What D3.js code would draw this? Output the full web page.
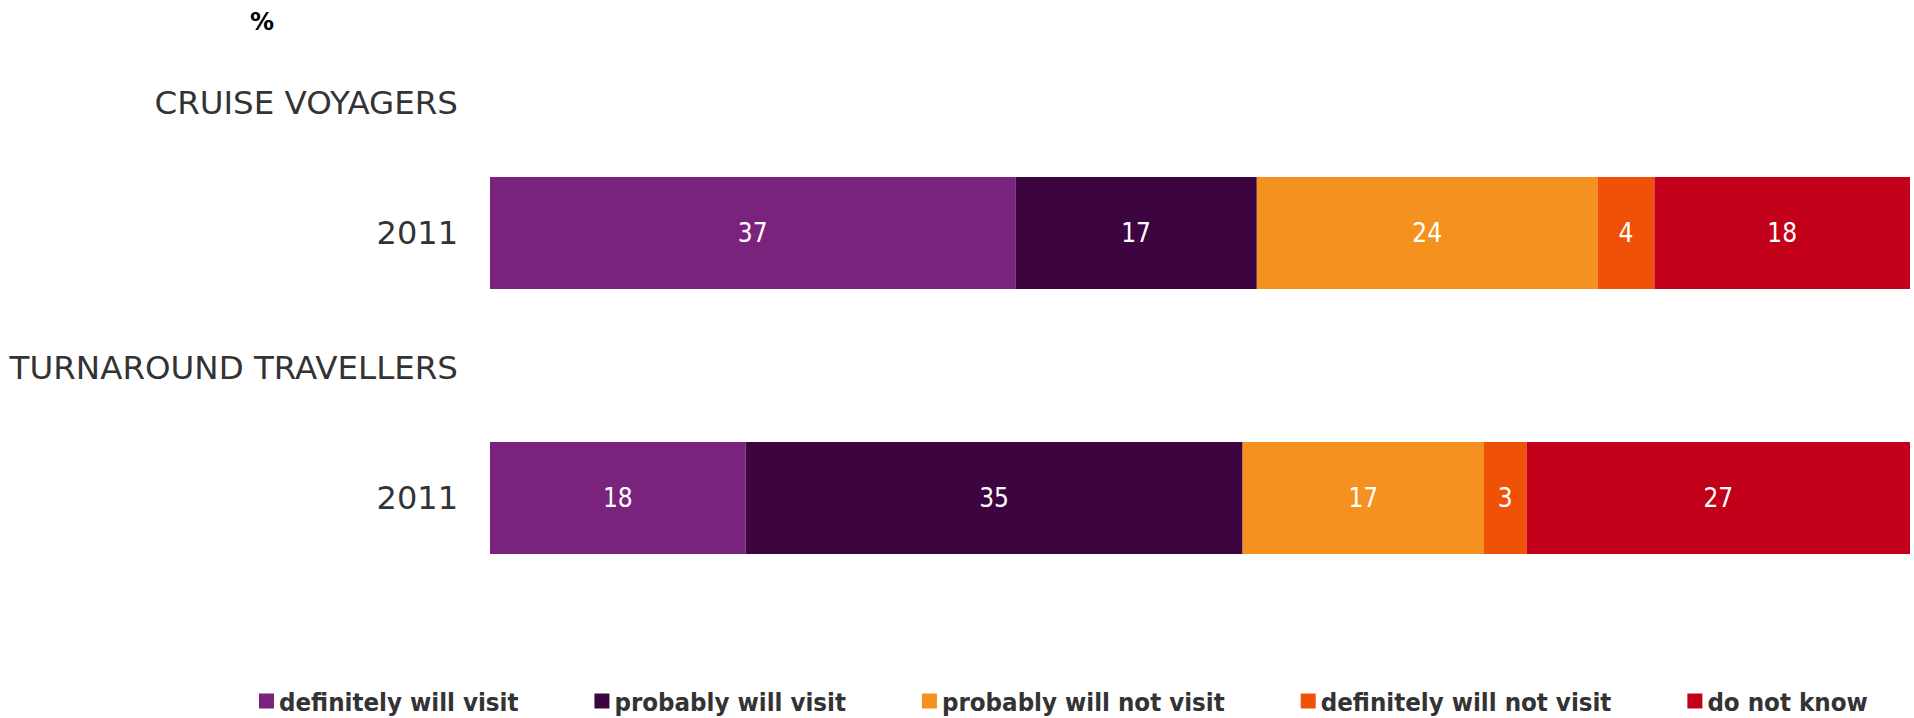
<!DOCTYPE html>
<html>
<head>
<meta charset="utf-8">
<script src="https://cdn.jsdelivr.net/npm/d3@7"></script>
<style>
  html, body { margin: 0; padding: 0; background: #ffffff; }
  svg { display: block; }
</style>
</head>
<body>
<svg id="chart" width="1914" height="718"></svg>
<script>
// Survey groups and the year shown under each
const groups = ["CRUISE VOYAGERS", "TURNAROUND TRAVELLERS"];
const years = ["2011", "2011"];

// Answer categories (stack order, left to right)
const answers = [
  "definitely will visit",
  "probably will visit",
  "probably will not visit",
  "definitely will not visit",
  "do not know"
];
const answerColors = ["#7a237d", "#3c0540", "#f5921f", "#ef5206", "#c30019"];

// Shares in %, one array per group, in the order of `answers`
const cruiseVoyagers = [37, 17, 24, 4, 18];
const turnaroundTravellers = [18, 35, 17, 3, 27];
const groupValues = [cruiseVoyagers, turnaroundTravellers];

const svg = d3.select("#chart");

const x = d3.scaleLinear().domain([0, 100]).range([490, 1910]);
const y = d3.scalePoint().domain(groups).range([233, 498]);
const barH = 112;
const color = d3.scaleOrdinal().domain(answers).range(answerColors);

const labelFont = "'DejaVu Sans', Verdana, sans-serif";

// unit marker
svg.append("text")
  .attr("x", 262).attr("y", 30)
  .attr("text-anchor", "middle")
  .attr("font-family", labelFont)
  .attr("font-weight", "bold")
  .attr("font-size", 24)
  .attr("fill", "#000")
  .text("%");

groups.forEach((g, gi) => {
  const cy = y(g);
  // group header
  svg.append("text")
    .attr("x", 458).attr("y", cy - 130)
    .attr("text-anchor", "end")
    .attr("dominant-baseline", "central")
    .attr("font-family", labelFont)
    .attr("font-size", 32.5)
    .attr("fill", "#333")
    .text(g);
  // year label
  svg.append("text")
    .attr("x", 458).attr("y", cy)
    .attr("text-anchor", "end")
    .attr("dominant-baseline", "central")
    .attr("font-family", labelFont)
    .attr("font-size", 32)
    .attr("fill", "#333")
    .text(years[gi]);

  // stacked segments
  const vals = groupValues[gi];
  let acc = 0;
  const segs = vals.map((v, i) => {
    const s = { key: answers[i], v, x0: acc, x1: acc + v };
    acc += v;
    return s;
  });
  const row = svg.append("g");
  row.selectAll("rect")
    .data(segs)
    .join("rect")
    .attr("x", d => x(d.x0))
    .attr("width", d => x(d.x1) - x(d.x0))
    .attr("y", cy - barH / 2)
    .attr("height", barH)
    .attr("fill", d => color(d.key));
  row.selectAll("text")
    .data(segs)
    .join("text")
    .attr("x", d => (x(d.x0) + x(d.x1)) / 2)
    .attr("y", cy)
    .attr("text-anchor", "middle")
    .attr("dominant-baseline", "central")
    .attr("font-family", "'DejaVu Sans Condensed', 'DejaVu Sans', sans-serif")
    .attr("font-size", 26)
    .attr("fill", "#fff")
    .text(d => d.v);
});

// legend: flowing row of swatches with labels
const legend = svg.append("g");
let lx = 259;
const ly = 702;
const sw = 15;
answers.forEach((a, i) => {
  legend.append("rect")
    .attr("x", lx).attr("y", ly - sw / 2 - 1)
    .attr("width", sw).attr("height", sw)
    .attr("fill", color(a));
  const t = legend.append("text")
    .attr("x", lx + sw + 5).attr("y", ly)
    .attr("dominant-baseline", "central")
    .attr("font-family", "'DejaVu Sans Condensed', 'DejaVu Sans', sans-serif")
    .attr("font-weight", "bold")
    .attr("font-size", 25.6)
    .attr("fill", "#333")
    .text(a);
  lx += sw + 5 + t.node().getComputedTextLength() + 76;
});
</script>
</body>
</html>
